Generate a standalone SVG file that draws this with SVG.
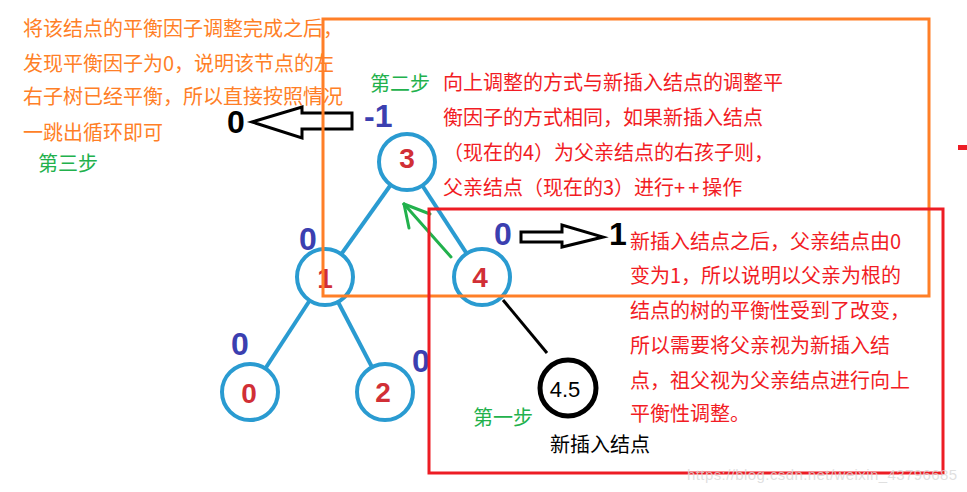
<svg xmlns="http://www.w3.org/2000/svg" width="967" height="492" viewBox="0 0 967 492">
<style>
.cjk{font-family:"Noto Sans CJK SC","Liberation Sans",sans-serif;font-size:20px}
.or{fill:#ff7f27}
.rd{fill:#f21c24}
.gr{fill:#22b14c}
.bk{fill:#000}
.nc{fill:#fff;stroke:#2a9bd1;stroke-width:4}
.nl{font-family:"Liberation Sans",Arial,sans-serif;font-weight:bold;font-size:28px;fill:#d12f36;text-anchor:middle}
.bf{font-family:"Liberation Sans",Arial,sans-serif;font-weight:bold;font-size:32px;fill:#3b3fb0}
.big{font-family:"Liberation Sans",Arial,sans-serif;font-weight:bold;font-size:32px;fill:#000}
.edge{stroke:#2a9bd1;stroke-width:4;fill:none}
.harrow{fill:#fff;stroke:#000;stroke-width:3;stroke-linejoin:miter}
</style>
<rect width="967" height="492" fill="#fff"/>

<g id="note-left" class="cjk or">
<text x="23" y="36">将该结点的平衡因子调整完成之后，</text>
<text x="23" y="71">发现平衡因子为0，说明该节点的左</text>
<text x="23" y="104">右子树已经平衡，所以直接按照情况</text>
<text x="23" y="140">一跳出循环即可</text>
</g>
<text id="step3" class="cjk gr" x="38" y="171">第三步</text>
<text id="step2" class="cjk gr" x="370" y="91">第二步</text>

<g id="note-top" class="cjk rd">
<text x="443" y="90">向上调整的方式与新插入结点的调整平</text>
<text x="443" y="125">衡因子的方式相同，如果新插入结点</text>
<text x="443" y="160">（现在的4）为父亲结点的右孩子则，</text>
<text x="443" y="195">父亲结点（现在的3）进行<tspan letter-spacing="3">++</tspan>操作</text>
</g>

<g id="note-right" class="cjk rd">
<text x="630" y="249">新插入结点之后，父亲结点由0</text>
<text x="630" y="283">变为1，所以说明以父亲为根的</text>
<text x="630" y="318">结点的树的平衡性受到了改变，</text>
<text x="630" y="353">所以需要将父亲视为新插入结</text>
<text x="630" y="388">点，祖父视为父亲结点进行向上</text>
<text x="630" y="421">平衡性调整。</text>
</g>

<g id="connectors">
<line class="edge" x1="407" y1="162" x2="325" y2="277"/>
<line class="edge" x1="407" y1="162" x2="482" y2="277"/>
<line class="edge" x1="325" y1="277" x2="250" y2="392"/>
<line class="edge" x1="325" y1="277" x2="385" y2="392"/>
<line x1="503" y1="300" x2="547" y2="353" stroke="#000" stroke-width="3"/>
<polygon class="harrow" points="252,122 302,107 302,113 352,113 352,129 302,129 302,138"/>
<polygon class="harrow" points="521,232 562,232 562,225 603,237 562,247 562,242 521,242"/>
<g stroke="#22b14c" stroke-width="3" fill="none" stroke-linecap="round">
<line x1="451" y1="257" x2="404" y2="204"/>
<line x1="404" y1="204" x2="409" y2="228"/>
<line x1="404" y1="204" x2="430" y2="214"/>
</g>
</g>

<g id="node-3"><circle class="nc" cx="407" cy="162" r="28"/><text class="nl" x="407" y="168">3</text><text class="bf" x="364" y="127">-1</text></g>
<g id="node-1"><circle class="nc" cx="325" cy="277" r="28"/><text class="nl" x="325" y="288">1</text><text class="bf" x="299" y="250">0</text></g>
<g id="node-4"><circle class="nc" cx="482" cy="277" r="28"/><text class="nl" x="480" y="287">4</text><text class="bf" x="494" y="245">0</text></g>
<g id="node-0"><circle class="nc" cx="250" cy="392" r="28"/><text class="nl" x="249" y="403">0</text><text class="bf" x="231" y="355">0</text></g>
<g id="node-2"><circle class="nc" cx="385" cy="392" r="28"/><text class="nl" x="383" y="402">2</text><text class="bf" x="412" y="372">0</text></g>
<g id="node-4_5"><circle cx="568" cy="388" r="28" fill="#fff" stroke="#000" stroke-width="5"/><text x="565" y="397" font-family="'Liberation Sans',Arial,sans-serif" font-size="22" text-anchor="middle">4.5</text></g>

<text id="bf-old" class="big" x="227" y="133">0</text>
<text id="bf-new" class="big" x="618" y="245" text-anchor="middle">1</text>

<text id="step1" class="cjk gr" x="473" y="425">第一步</text>
<text id="new-label" class="cjk bk" x="550" y="452">新插入结点</text>

<rect id="frame-orange" x="323" y="19" width="606" height="277" fill="none" stroke="#ff7f27" stroke-width="3"/>
<rect id="frame-red" x="429" y="209" width="514" height="264" fill="none" stroke="#ed1c24" stroke-width="3"/>
<rect x="958" y="145" width="9" height="5" fill="#ed1c24"/>

<text id="watermark" x="687" y="480" font-family="'Liberation Sans',Arial,sans-serif" font-size="15" fill="#d8d8d8" fill-opacity="0.8" textLength="270">https://blog.csdn.net/weixin_43796685</text>
</svg>
